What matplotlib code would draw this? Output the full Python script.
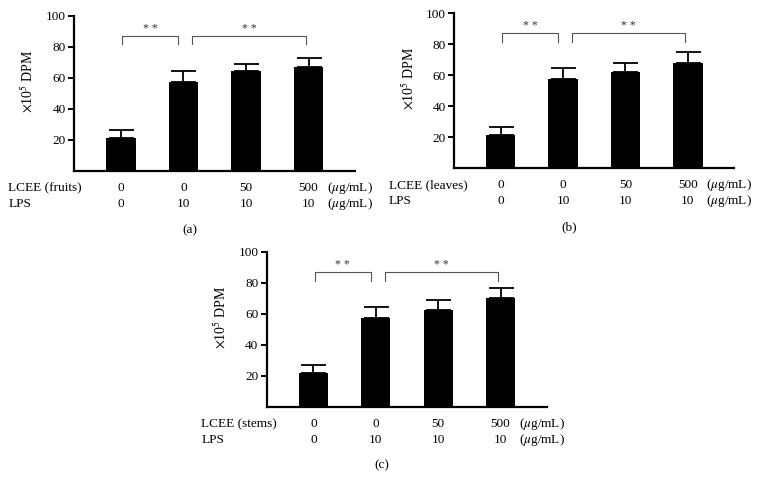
import matplotlib
matplotlib.use("Agg")
import matplotlib.pyplot as plt
import matplotlib.transforms as mtransforms

plt.rcParams['font.family'] = ['Liberation Serif', 'DejaVu Serif']
plt.rcParams['mathtext.fontset'] = 'stix'

# data
lcee_doses = ['0', '0', '50', '500']
lps_doses = ['0', '10', '10', '10']

fruits_mean = [21.2, 57.3, 64.4, 66.9]
fruits_err = [5.2, 6.9, 4.2, 5.8]
leaves_mean = [21.3, 57.5, 62.3, 67.8]
leaves_err = [5.4, 7.2, 5.6, 7.0]
stems_mean = [21.5, 57.3, 62.2, 70.5]
stems_err = [5.4, 7.0, 6.5, 6.3]

panels = [
    ('LCEE (fruits)', '(a)', fruits_mean, fruits_err, [0.097, 0.651, 0.368, 0.317]),
    ('LCEE (leaves)', '(b)', leaves_mean, leaves_err, [0.595, 0.657, 0.367, 0.316]),
    ('LCEE (stems)', '(c)', stems_mean, stems_err, [0.3495, 0.170, 0.367, 0.316]),
]

# significance brackets: (x0, x1)
brackets = [(0.02, 0.92), (1.14, 2.96)]

fig = plt.figure(figsize=(7.63, 4.9), dpi=100)

for name, tag, means, errs, rect in panels:
    ax = fig.add_axes(rect)
    x = list(range(len(means)))
    ax.bar(x, means, width=0.47, color='black', zorder=2)
    ax.errorbar(x, means, yerr=[[0] * len(errs), errs], fmt='none',
                ecolor='black', elinewidth=1.3, capsize=9, capthick=1.3, zorder=1)

    ax.set_xlim(-0.75, 3.74)
    ax.set_ylim(0, 100)
    ax.set_yticks([20, 40, 60, 80, 100])
    ax.set_xticks([])
    for s in ['top', 'right']:
        ax.spines[s].set_visible(False)
    for s in ['left', 'bottom']:
        ax.spines[s].set_linewidth(1.6)
    ax.tick_params(axis='y', direction='out', length=4, width=1.4, labelsize=9.5, pad=2)
    ax.set_ylabel(r'$\times$10$^5$ DPM', fontsize=10)
    ax.yaxis.set_label_coords(-0.135, 0.58)

    # significance brackets
    for x0, x1 in brackets:
        ax.plot([x0, x0, x1, x1], [81.5, 87, 87, 81.5], color='#555555', lw=0.8,
                clip_on=False)
        ax.text((x0 + x1) / 2, 87.8, '* *', ha='center', va='bottom', fontsize=8.5,
                color='#333333')

    # dose rows under the axis
    trans = mtransforms.blended_transform_factory(ax.transData, ax.transAxes)
    rows = [(-0.112, name, lcee_doses), (-0.212, 'LPS', lps_doses)]
    for yy, label, doses in rows:
        ax.text(-1.8, yy, label, transform=trans, ha='left', va='center', fontsize=9.5)
        for i in x:
            ax.text(i, yy, doses[i], transform=trans, ha='center', va='center', fontsize=9.5)
        ax.text(3.29, yy, r'($\mu$g/mL)', transform=trans, ha='left', va='center',
                fontsize=9.5)
    ax.text(1.1, -0.38, tag, transform=trans, ha='center', va='center', fontsize=9.5)

fig.savefig('out.png', dpi=100)
